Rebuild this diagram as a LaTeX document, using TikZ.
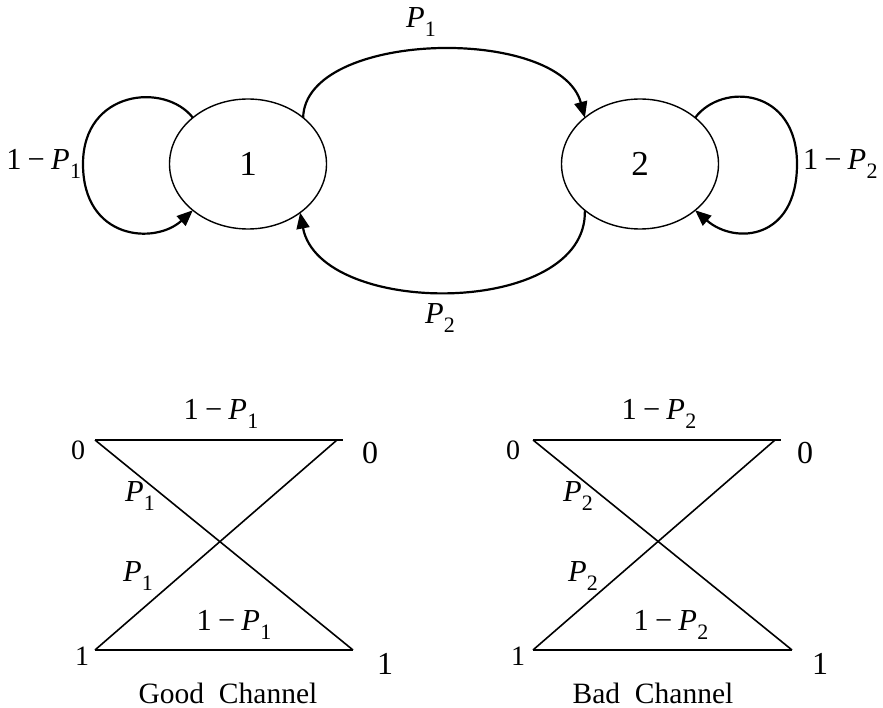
\documentclass[tikz,border=0pt]{standalone}
\usepackage{fontspec}
\setmainfont{Liberation Serif}
\usetikzlibrary{arrows.meta,shapes.geometric}
\newcommand\mP[1]{\textit{P}\kern0.3pt\raisebox{-0.27em}{\fontsize{22}{25}\selectfont #1}}
\newcommand\omP[1]{1\kern0.2em−\kern0.2em\mP{#1}}
\begin{document}
\begin{tikzpicture}[x=1pt,y=1pt,
  every node/.style={inner sep=0pt,outer sep=0pt},
  state/.style={ellipse,draw,line width=1.4pt,minimum width=157pt,minimum height=130pt,font=\fontsize{35}{38}\selectfont},
  arr/.style={line width=2.2pt,-{Triangle[length=16pt,width=13pt]}},
  chan/.style={line width=1.6pt},
  mlab/.style={font=\fontsize{30.5}{34}\selectfont},
  tlab/.style={font=\fontsize{28}{30}\selectfont},
  tlabbig/.style={font=\fontsize{32}{36}\selectfont},
  caption/.style={font=\fontsize{29.5}{34}\selectfont}]
\useasboundingbox (0,0) rectangle (883,-708);
% states
\node[state] (e1) at (248,-164) {1};
\node[state] (e2) at (640,-164) {2};
% transitions
\draw[arr] (e1.40) .. controls (305,-30) and (560,-25) .. (e2.140);
\draw[arr] (e2.220) .. controls (588,-318) and (320,-318) .. (e1.-43);
\coordinate (l1) at (83,-164);
\coordinate (l2) at (797,-164);
\draw[arr] (e1.140) .. controls (165,-82) and (83,-90) .. (l1) .. controls (83,-240) and (155,-245) .. (e1.220);
\draw[arr] (e2.40) .. controls (722,-82) and (797,-88) .. (l2) .. controls (797,-240) and (735,-245) .. (e2.-40);
\node[mlab] (p1) at (421,-22) {\mP{1}};
\node[mlab] (p2) at (440,-318) {\mP{2}};
\node[mlab,anchor=east] (q1) at (81,-164) {\omP{1}};
\node[mlab,anchor=west] (q2) at (803,-164) {\omP{2}};
% good channel
\coordinate (ga0) at (95,-440);
\coordinate (gb0) at (343,-440);
\coordinate (gx0) at (337,-440);
\coordinate (ga1) at (95,-650);
\coordinate (gb1) at (353,-650);
\draw[chan] (ga0) -- (gb0);
\draw[chan] (ga1) -- (gb1);
\draw[chan] (ga0) -- (gb1);
\draw[chan] (ga1) -- (gx0);
\node[tlab] (gl0) at (78,-450) {0};
\node[tlabbig] (gr0) at (370,-453) {0};
\node[tlab] (gl1) at (82,-656) {1};
\node[tlabbig] (gr1) at (385,-664) {1};
\node[mlab] (gt) at (221,-414) {\omP{1}};
\node[mlab] (gu) at (140,-496) {\mP{1}};
\node[mlab] (gd) at (138,-576) {\mP{1}};
\node[mlab] (gb) at (234,-625) {\omP{1}};
\node[caption] (gc) at (228,-693) {Good\ \ Channel};
% bad channel
\coordinate (ba0) at (533,-440);
\coordinate (bb0) at (781,-440);
\coordinate (bx0) at (775,-440);
\coordinate (ba1) at (533,-650);
\coordinate (bb1) at (792,-650);
\draw[chan] (ba0) -- (bb0);
\draw[chan] (ba1) -- (bb1);
\draw[chan] (ba0) -- (bb1);
\draw[chan] (ba1) -- (bx0);
\node[tlab] (bl0) at (513,-450) {0};
\node[tlabbig] (br0) at (805,-453) {0};
\node[tlab] (bl1) at (518,-656) {1};
\node[tlabbig] (br1) at (820,-664) {1};
\node[mlab] (bt) at (659,-414) {\omP{2}};
\node[mlab] (bu) at (578,-496) {\mP{2}};
\node[mlab] (bd) at (583,-576) {\mP{2}};
\node[mlab] (bb) at (671,-625) {\omP{2}};
\node[caption] (bc) at (653,-693) {Bad\ \ Channel};
\end{tikzpicture}
\end{document}
